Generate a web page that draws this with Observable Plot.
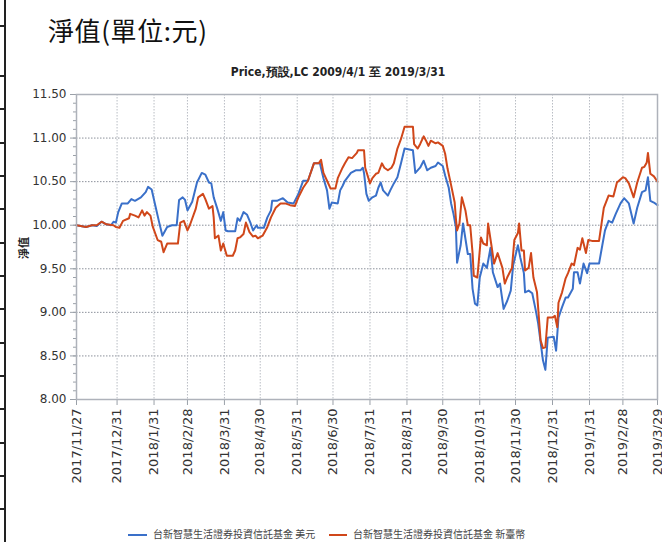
<!DOCTYPE html>
<html><head><meta charset="utf-8">
<script src="https://cdn.jsdelivr.net/npm/d3@7"></script>
<script src="https://cdn.jsdelivr.net/npm/@observablehq/plot@0.6"></script>
<style>
html,body{margin:0;padding:0;background:#fff}
body{width:662px;height:542px;overflow:hidden;position:relative;font-family:"DejaVu Sans",sans-serif}
#vline{position:absolute;left:4px;top:0;width:2px;height:542px;background:#222;z-index:5}
.stub{position:absolute;left:0;width:5px;height:1.5px;background:#222;z-index:5}
#head{position:absolute;left:48px;top:11px;font-family:"Noto Sans CJK TC",serif;font-size:26px;color:#111;letter-spacing:0.6px;white-space:nowrap}
#title{position:absolute;left:7px;width:662px;top:64px;text-align:center;font-family:"Liberation Sans Narrow","DejaVu Sans Condensed","Liberation Sans",sans-serif;font-weight:bold;font-size:12px;color:#222}
#chart{position:absolute;left:0;top:84px}
#ylab{position:absolute;left:12px;top:240px;font-family:"Noto Sans CJK TC",sans-serif;font-size:11px;font-weight:bold;color:#222;transform:rotate(-90deg);transform-origin:center;white-space:nowrap}
.leg{position:absolute;top:528px;font-family:"Noto Sans CJK TC",sans-serif;font-size:10px;color:#444;white-space:nowrap;line-height:12px}
.sw{position:absolute;top:534px;height:2px}
</style></head><body>
<div id="vline"></div>
<div id="head">淨值(單位:元)</div>
<div id="title">Price,預設,LC 2009/4/1 至 2019/3/31</div>
<div id="chart"></div>
<div id="ylab">淨值</div>
<div id="legend"></div>
<script>
const seriesNames = ["台新智慧生活證券投資信託基金 美元", "台新智慧生活證券投資信託基金 新臺幣"];
const seriesColors = ["#3a70c9", "#d0471a"];

const usdDates = ["2017-11-27","2017-12-05","2017-12-10","2017-12-14","2017-12-18","2017-12-22","2017-12-26","2017-12-28","2017-12-30","2018-01-01","2018-01-04","2018-01-09","2018-01-12","2018-01-15","2018-01-20","2018-01-24","2018-01-26","2018-01-29","2018-02-01","2018-02-04","2018-02-07","2018-02-11","2018-02-15","2018-02-19","2018-02-21","2018-02-24","2018-02-26","2018-02-28","2018-03-04","2018-03-08","2018-03-12","2018-03-15","2018-03-18","2018-03-20","2018-03-22","2018-03-25","2018-03-28","2018-03-30","2018-04-01","2018-04-03","2018-04-09","2018-04-11","2018-04-13","2018-04-16","2018-04-19","2018-04-22","2018-04-24","2018-04-27","2018-04-28","2018-05-03","2018-05-06","2018-05-09","2018-05-10","2018-05-14","2018-05-19","2018-05-23","2018-05-28","2018-06-01","2018-06-05","2018-06-09","2018-06-11","2018-06-14","2018-06-19","2018-06-22","2018-06-25","2018-06-27","2018-06-29","2018-07-04","2018-07-06","2018-07-08","2018-07-10","2018-07-15","2018-07-19","2018-07-23","2018-07-25","2018-07-26","2018-07-28","2018-07-30","2018-08-02","2018-08-05","2018-08-07","2018-08-09","2018-08-11","2018-08-15","2018-08-17","2018-08-20","2018-08-23","2018-08-26","2018-08-29","2018-09-05","2018-09-07","2018-09-11","2018-09-14","2018-09-17","2018-09-20","2018-09-24","2018-09-26","2018-09-30","2018-10-02","2018-10-05","2018-10-07","2018-10-09","2018-10-11","2018-10-12","2018-10-15","2018-10-17","2018-10-21","2018-10-23","2018-10-25","2018-10-27","2018-10-29","2018-10-31","2018-11-03","2018-11-06","2018-11-09","2018-11-11","2018-11-15","2018-11-17","2018-11-20","2018-11-23","2018-11-26","2018-11-28","2018-12-02","2018-12-04","2018-12-07","2018-12-08","2018-12-11","2018-12-14","2018-12-17","2018-12-19","2018-12-23","2018-12-25","2018-12-27","2019-01-01","2019-01-03","2019-01-05","2019-01-08","2019-01-11","2019-01-13","2019-01-17","2019-01-18","2019-01-21","2019-01-23","2019-01-26","2019-01-29","2019-01-31","2019-02-08","2019-02-11","2019-02-13","2019-02-16","2019-02-19","2019-02-22","2019-02-26","2019-03-01","2019-03-05","2019-03-09","2019-03-12","2019-03-16","2019-03-19","2019-03-21","2019-03-23","2019-03-26","2019-03-29"];
const usdValues = [10.00,9.98,10.00,9.99,10.04,10.01,10.00,10.04,10.03,10.15,10.25,10.25,10.30,10.28,10.32,10.38,10.44,10.41,10.23,10.05,9.88,9.98,10.00,10.00,10.29,10.32,10.29,10.17,10.27,10.49,10.60,10.58,10.49,10.48,10.32,10.19,10.05,10.15,9.94,9.93,9.93,10.08,10.05,10.15,10.12,10.02,9.94,10.00,9.97,9.97,10.09,10.17,10.28,10.28,10.31,10.26,10.25,10.36,10.51,10.51,10.59,10.71,10.71,10.54,10.40,10.19,10.26,10.25,10.40,10.45,10.51,10.60,10.63,10.63,10.66,10.60,10.36,10.28,10.32,10.34,10.43,10.49,10.40,10.34,10.40,10.48,10.55,10.71,10.88,10.86,10.60,10.66,10.74,10.63,10.66,10.68,10.72,10.68,10.57,10.43,10.25,10.13,9.98,9.57,9.77,10.02,9.67,9.67,9.27,9.10,9.08,9.40,9.56,9.51,9.74,9.46,9.29,9.33,9.04,9.13,9.25,9.54,9.77,9.63,9.45,9.23,9.25,9.22,9.02,8.87,8.45,8.34,8.71,8.72,8.56,8.94,9.06,9.17,9.17,9.27,9.46,9.46,9.33,9.56,9.45,9.56,9.56,9.79,9.94,10.05,10.03,10.13,10.25,10.31,10.25,10.02,10.20,10.38,10.40,10.55,10.28,10.26,10.23];

const twdDates = ["2017-11-27","2017-12-05","2017-12-10","2017-12-14","2017-12-18","2017-12-22","2017-12-28","2017-12-30","2018-01-02","2018-01-05","2018-01-10","2018-01-11","2018-01-15","2018-01-18","2018-01-21","2018-01-23","2018-01-25","2018-01-28","2018-01-30","2018-02-03","2018-02-06","2018-02-08","2018-02-11","2018-02-20","2018-02-22","2018-02-25","2018-02-28","2018-03-02","2018-03-07","2018-03-09","2018-03-13","2018-03-15","2018-03-18","2018-03-21","2018-03-22","2018-03-23","2018-03-26","2018-03-28","2018-03-30","2018-04-02","2018-04-07","2018-04-09","2018-04-11","2018-04-13","2018-04-16","2018-04-18","2018-04-21","2018-04-24","2018-04-26","2018-04-28","2018-05-02","2018-05-06","2018-05-09","2018-05-13","2018-05-17","2018-05-21","2018-05-25","2018-05-29","2018-06-01","2018-06-05","2018-06-09","2018-06-14","2018-06-18","2018-06-20","2018-06-22","2018-06-25","2018-06-28","2018-07-02","2018-07-04","2018-07-08","2018-07-10","2018-07-13","2018-07-16","2018-07-20","2018-07-21","2018-07-26","2018-07-27","2018-07-31","2018-08-02","2018-08-05","2018-08-07","2018-08-10","2018-08-12","2018-08-15","2018-08-18","2018-08-20","2018-08-23","2018-08-26","2018-08-29","2018-09-05","2018-09-06","2018-09-09","2018-09-11","2018-09-14","2018-09-16","2018-09-18","2018-09-20","2018-09-24","2018-09-26","2018-09-30","2018-10-02","2018-10-04","2018-10-07","2018-10-10","2018-10-11","2018-10-12","2018-10-14","2018-10-16","2018-10-19","2018-10-21","2018-10-23","2018-10-25","2018-10-26","2018-10-29","2018-11-01","2018-11-03","2018-11-06","2018-11-07","2018-11-10","2018-11-12","2018-11-15","2018-11-19","2018-11-21","2018-11-23","2018-11-27","2018-11-29","2018-12-02","2018-12-03","2018-12-05","2018-12-07","2018-12-08","2018-12-11","2018-12-13","2018-12-15","2018-12-18","2018-12-21","2018-12-23","2018-12-25","2018-12-27","2018-12-31","2019-01-02","2019-01-04","2019-01-05","2019-01-08","2019-01-11","2019-01-13","2019-01-16","2019-01-18","2019-01-21","2019-01-23","2019-01-25","2019-01-28","2019-01-30","2019-02-02","2019-02-08","2019-02-12","2019-02-16","2019-02-20","2019-02-23","2019-02-28","2019-03-02","2019-03-05","2019-03-09","2019-03-12","2019-03-16","2019-03-18","2019-03-20","2019-03-21","2019-03-23","2019-03-26","2019-03-29"];
const twdValues = [10.00,9.98,10.00,10.00,10.04,10.01,10.00,9.98,9.97,10.05,10.08,10.13,10.11,10.09,10.17,10.11,10.15,10.11,9.98,9.83,9.81,9.69,9.79,9.79,10.03,10.05,9.94,10.00,10.19,10.32,10.36,10.30,10.19,10.22,10.09,9.85,9.88,9.71,9.79,9.65,9.65,9.71,9.85,9.86,9.90,10.03,9.92,9.87,9.88,9.85,9.88,9.98,10.09,10.20,10.25,10.25,10.23,10.22,10.32,10.43,10.51,10.71,10.71,10.75,10.60,10.51,10.42,10.42,10.54,10.66,10.71,10.78,10.77,10.83,10.86,10.86,10.66,10.48,10.54,10.59,10.60,10.71,10.66,10.63,10.66,10.71,10.88,10.99,11.13,11.13,10.93,10.88,10.93,11.02,10.97,10.91,10.97,10.94,10.95,10.91,10.82,10.65,10.46,10.26,10.08,9.94,10.02,10.32,10.17,10.00,10.00,9.68,9.42,9.40,9.86,9.79,9.77,10.02,9.75,9.56,9.68,9.51,9.33,9.40,9.51,9.83,9.91,10.02,9.71,9.71,9.48,9.51,9.68,9.40,9.23,8.68,8.59,8.60,8.94,8.94,8.96,8.83,9.11,9.23,9.39,9.45,9.56,9.54,9.74,9.72,9.85,9.68,9.83,9.82,9.82,10.20,10.34,10.33,10.49,10.55,10.54,10.48,10.32,10.49,10.66,10.67,10.72,10.83,10.59,10.56,10.50];

const xTickDates = ["2017-11-27","2017-12-31","2018-01-31","2018-02-28","2018-03-31","2018-04-30","2018-05-31","2018-06-30","2018-07-31","2018-08-31","2018-09-30","2018-10-31","2018-11-30","2018-12-31","2019-01-31","2019-02-28","2019-03-29"];
const yTicks = [8.00, 8.50, 9.00, 9.50, 10.00, 10.50, 11.00, 11.50];

// left page border stubs (decoration)
[25, 75, 108, 142, 175, 208, 242, 275, 308, 342, 375, 408, 442, 475, 508].forEach(y => {
  const s = document.createElement("div"); s.className = "stub"; s.style.top = y + "px"; document.body.appendChild(s);
});

const parse = d3.utcParse("%Y-%m-%d");
const data = [
  ...usdDates.map((d, i) => ({date: parse(d), value: usdValues[i], series: seriesNames[0]})),
  ...twdDates.map((d, i) => ({date: parse(d), value: twdValues[i], series: seriesNames[1]}))
];
const xTicks = xTickDates.map(parse);
const fmt = d3.utcFormat("%Y/%-m/%-d");
const minorTicks = d3.range(80, 116).map(v => v / 10);

const chart = Plot.plot({
  width: 662, height: 410,
  marginLeft: 76, marginRight: 5, marginTop: 10, marginBottom: 95,
  style: {fontFamily: "DejaVu Sans, sans-serif", fontSize: "11px", color: "#333", background: "transparent", overflow: "visible"},
  x: {type: "utc", domain: [xTicks[0], xTicks[xTicks.length - 1]]},
  y: {domain: [8, 11.5]},
  color: {domain: seriesNames, range: seriesColors},
  marks: [
    Plot.gridY(yTicks, {stroke: "#8c919b", strokeOpacity: 1, strokeDasharray: "1.5,1.5"}),
    Plot.gridX(xTicks, {stroke: "#b9bdc4", strokeOpacity: 1, strokeDasharray: "1.5,1.5"}),
    Plot.axisY(minorTicks, {tickSize: 3, tickFormat: () => "", stroke: "#9aa0a8", label: null}),
    Plot.axisY(yTicks, {tickSize: 6, tickPadding: 4, tickFormat: d => d.toFixed(2), stroke: "#9aa0a8", fill: "#333", fontSize: 12, label: null}),
    Plot.axisX(xTicks, {tickSize: 6, tickPadding: 3, tickFormat: fmt, tickRotate: -90, stroke: "#9aa0a8", fill: "#333", fontSize: 13, label: null}),
    Plot.line(data, {x: "date", y: "value", z: "series", stroke: "series", strokeWidth: 2}),
    Plot.frame({stroke: "#aeb2ba", strokeWidth: 1.5})
  ]
});
document.getElementById("chart").appendChild(chart);

// legend
const leg = document.getElementById("legend");
[[128, 147, 153], [329, 347, 353]].forEach(([a, b, t], i) => {
  const sw = document.createElement("div"); sw.className = "sw";
  sw.style.left = a + "px"; sw.style.width = (b - a) + "px"; sw.style.background = seriesColors[i];
  leg.appendChild(sw);
  const tx = document.createElement("div"); tx.className = "leg";
  tx.style.left = t + "px"; tx.textContent = seriesNames[i];
  leg.appendChild(tx);
});
</script>
</body></html>
